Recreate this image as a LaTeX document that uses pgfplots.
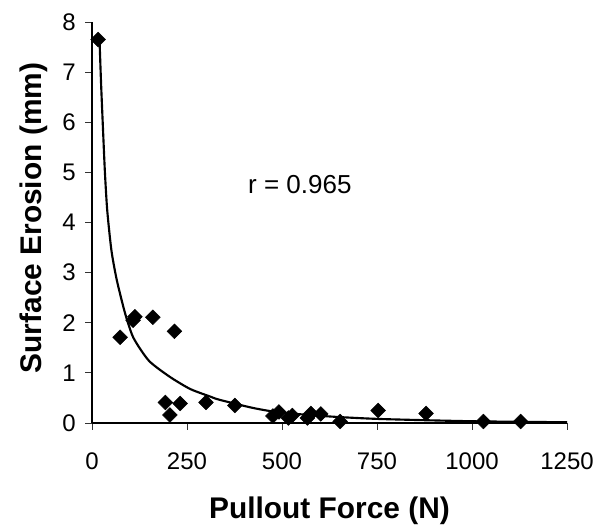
\documentclass[border=0pt]{standalone}
\usepackage{pgfplots}
\pgfplotsset{compat=1.18}
\usepackage{fontspec}
\setmainfont{Liberation Sans}

% measured erosion versus pullout force
\pgfplotstableread{
x y
16 7.65
74 1.71
108 2.05
113 2.12
160 2.11
217 1.83
193 0.41
205 0.16
232 0.39
300 0.41
376 0.35
476 0.14
492 0.22
517 0.10
527 0.15
567 0.10
576 0.19
602 0.18
653 0.03
753 0.25
879 0.19
1030 0.03
1128 0.03
}\measured

% fitted trend
\pgfplotstableread{
x y
20 7.6
24 6.75
29 5.85
34 5.0
40 4.25
51 3.45
65 2.86
87 2.19
109 1.70
150 1.24
205 0.92
258 0.68
310 0.53
337 0.46
424 0.30
495 0.21
626 0.13
758 0.08
1000 0.035
1250 0.015
}\trend

\begin{document}
\begin{tikzpicture}
\begin{axis}[
  scale only axis,
  width=356.25pt, height=300.75pt,
  xmin=0, xmax=1250, ymin=0, ymax=8,
  axis lines=left,
  axis line style={-, line width=0.8pt, black},
  xtick={0,250,500,750,1000,1250},
  ytick={0,1,...,8},
  % ticks drawn outward; label offsets below are measured from the axis line
  tick align=inside,
  major tick length=-5.5pt,
  tick style={line width=0.6pt, black!80},
  /pgf/number format/assume math mode=true,
  /pgf/number format/1000 sep={},
  ticklabel style={font=\fontsize{18}{21}\selectfont},
  xticklabel style={anchor=north, yshift=-18.4pt},
  yticklabel style={anchor=east, xshift=-8.7pt},
  clip=false,
]
\addplot[black, line width=1.6pt, smooth, tension=0.4, no marks] table[x=x, y=y] {\trend};
\addplot[only marks, mark=square*, mark size=3.9pt, mark options={rotate=45, fill=black, draw=black}] table[x=x, y=y] {\measured};
\node[font=\fontsize{19.5}{22}\selectfont] at (axis cs:547,4.76) {r = 0.965};
\node[font=\fontsize{22.4}{26}\selectfont\bfseries, anchor=base]
  at ([yshift=-71.5pt]rel axis cs:0.5,0) {Pullout Force (N)};
\node[font=\fontsize{22.4}{26}\selectfont\bfseries, anchor=base, rotate=90]
  at ([xshift=-37.7pt]rel axis cs:0,0.511) {Surface Erosion (mm)};
\end{axis}
\pgfresetboundingbox
\path (-69pt,-75.75pt) rectangle (379.5pt,317.25pt);
\end{tikzpicture}
\end{document}
